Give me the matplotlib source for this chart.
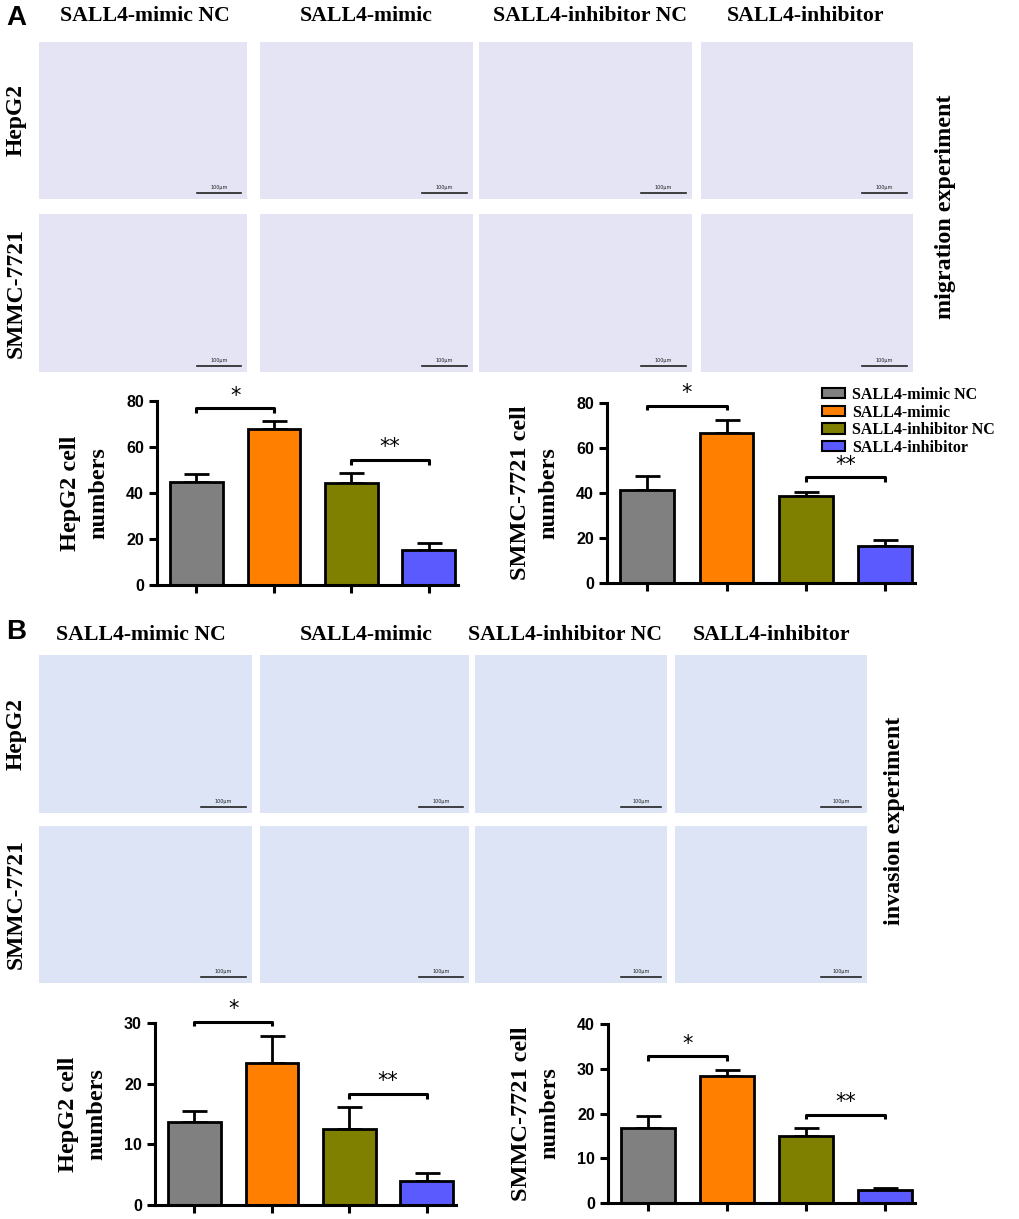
import matplotlib.pyplot as plt
from matplotlib.patches import Patch

W, H = 1020, 1219

groups = ['SALL4-mimic NC', 'SALL4-mimic', 'SALL4-inhibitor NC', 'SALL4-inhibitor']
colors = ['#808080', '#FF8000', '#808000', '#5A5AFF']
cells = ['HepG2', 'SMMC-7721']

# migration (panel A)
mig_hep = [44.8, 67.9, 44.3, 15.2]
mig_hep_err = [3.5, 3.6, 4.6, 3.1]
mig_smmc = [41.2, 66.8, 38.7, 16.6]
mig_smmc_err = [6.5, 5.6, 1.6, 2.5]

# invasion (panel B)
inv_hep = [13.6, 23.4, 12.6, 4.0]
inv_hep_err = [1.9, 4.4, 3.6, 1.2]
inv_smmc = [16.7, 28.4, 15.0, 2.9]
inv_smmc_err = [2.7, 1.4, 1.7, 0.5]

serif = 'Liberation Serif'
sans = 'Liberation Sans'

fig = plt.figure(figsize=(W / 100, H / 100), dpi=100)


def px_axes(x0, y0, x1, y1):
    return fig.add_axes([x0 / W, 1 - y1 / H, (x1 - x0) / W, (y1 - y0) / H])


def fx(x):
    return x / W


def fy(y):
    return 1 - y / H


def photo(x0, y0, x1, y1, face):
    ax = px_axes(x0, y0, x1, y1)
    ax.set_facecolor(face)
    ax.set_xlim(0, 1)
    ax.set_ylim(0, 1)
    ax.set_xticks([])
    ax.set_yticks([])
    for s in ax.spines.values():
        s.set_visible(False)
    # scale bar
    ax.plot([0.76, 0.97], [0.04, 0.04], color='#222222', lw=1.2)
    ax.text(0.865, 0.055, '100μm', ha='center', va='bottom', fontsize=3.5, color='#222222')


def bars(box, vals, errs, ymax, step, ylabel, br1, br2):
    ax = px_axes(*box)
    x = range(len(vals))
    ax.bar(x, vals, width=0.68, color=colors, edgecolor='black', linewidth=2.0, zorder=2)
    ax.errorbar(x, vals, yerr=[[0] * len(vals), errs], fmt='none', ecolor='black',
                elinewidth=2.0, capsize=9, capthick=2.0, zorder=1)
    ax.set_xlim(-0.51, 3.38)
    ax.set_ylim(0, ymax)
    ax.set_yticks(range(0, ymax + 1, step))
    ax.set_xticks(list(x))
    ax.set_xticklabels([])
    for s in ['top', 'right']:
        ax.spines[s].set_visible(False)
    for s in ['left', 'bottom']:
        ax.spines[s].set_linewidth(2.2)
    ax.tick_params(axis='both', width=2.2, length=6, direction='out')
    for lab in ax.get_yticklabels():
        lab.set_fontfamily(sans)
        lab.set_fontweight('bold')
        lab.set_fontsize(11.5)
    ax.set_ylabel(ylabel, fontfamily=serif, fontweight='bold', fontsize=17.5,
                  linespacing=1.45, labelpad=12)
    # significance brackets
    for (a, b, yb, star) in [br1, br2]:
        d = ymax * 0.025
        ax.plot([a, a, b, b], [yb - d, yb, yb, yb - d], color='black', lw=2.2,
                clip_on=False, solid_capstyle='butt')
        ax.text((a + b) / 2, yb + ymax * 0.015, star, ha='center', va='bottom',
                fontsize=15, fontfamily='DejaVu Sans', clip_on=False)
    return ax


# ---------------- panel A ----------------
fig.text(fx(6), fy(18), 'A', fontfamily=sans, fontweight='bold', fontsize=20, va='center')
a_cols = [(39, 247), (260, 473), (479, 692), (701, 913)]
a_rows = [(42, 199), (214, 372)]
a_heads = [145, 366, 590, 806]
for g, cx in zip(groups, a_heads):
    fig.text(fx(cx), fy(16), g, fontfamily=serif, fontweight='bold', fontsize=15.7,
             ha='center', va='center')
for (y0, y1), name in zip(a_rows, cells):
    fig.text(fx(16), fy((y0 + y1) / 2), name, fontfamily=serif, fontweight='bold',
             fontsize=17, rotation=90, ha='center', va='center')
    for (x0, x1) in a_cols:
        photo(x0, y0, x1, y1, '#E4E4F5')
fig.text(fx(946), fy(207), 'migration experiment', fontfamily=serif, fontweight='bold',
         fontsize=17.3, rotation=90, ha='center', va='center')

bars((157, 401, 458, 585), mig_hep, mig_hep_err, 80, 20, 'HepG2 cell\nnumbers',
     (0, 1, 76.8, '*'), (2, 3, 54.3, '**'))
bars((607, 403, 915, 583), mig_smmc, mig_smmc_err, 80, 20, 'SMMC-7721 cell\nnumbers',
     (0, 1, 78.8, '*'), (2, 3, 47.0, '**'))

handles = [Patch(facecolor=c, edgecolor='black', linewidth=1.5, label=g) for c, g in zip(colors, groups)]
fig.legend(handles=handles, loc='upper left', bbox_to_anchor=(fx(822), fy(387)),
           frameon=False, prop={'family': serif, 'weight': 'bold', 'size': 11.5},
           handlelength=1.45, handleheight=0.6, labelspacing=0.1, handletextpad=0.45,
           borderaxespad=0, borderpad=0)

# ---------------- panel B ----------------
fig.text(fx(6), fy(632), 'B', fontfamily=sans, fontweight='bold', fontsize=20, va='center')
b_cols = [(39, 252), (260, 469), (475, 667), (675, 867)]
b_rows = [(655, 813), (826, 983)]
b_heads = [141, 366, 565, 772]
for g, cx in zip(groups, b_heads):
    fig.text(fx(cx), fy(635), g, fontfamily=serif, fontweight='bold', fontsize=15.7,
             ha='center', va='center')
for (y0, y1), name in zip(b_rows, cells):
    fig.text(fx(16), fy((y0 + y1) / 2), name, fontfamily=serif, fontweight='bold',
             fontsize=17, rotation=90, ha='center', va='center')
    for (x0, x1) in b_cols:
        photo(x0, y0, x1, y1, '#DCE4F5')
fig.text(fx(895), fy(821), 'invasion experiment', fontfamily=serif, fontweight='bold',
         fontsize=17.3, rotation=90, ha='center', va='center')

bars((155, 1023, 456, 1205), inv_hep, inv_hep_err, 30, 10, 'HepG2 cell\nnumbers',
     (0, 1, 30.2, '*'), (2, 3, 18.3, '**'))
bars((608, 1024, 915, 1203), inv_smmc, inv_smmc_err, 40, 10, 'SMMC-7721 cell\nnumbers',
     (0, 1, 32.8, '*'), (2, 3, 19.7, '**'))

fig.savefig('out.png', dpi=100)
